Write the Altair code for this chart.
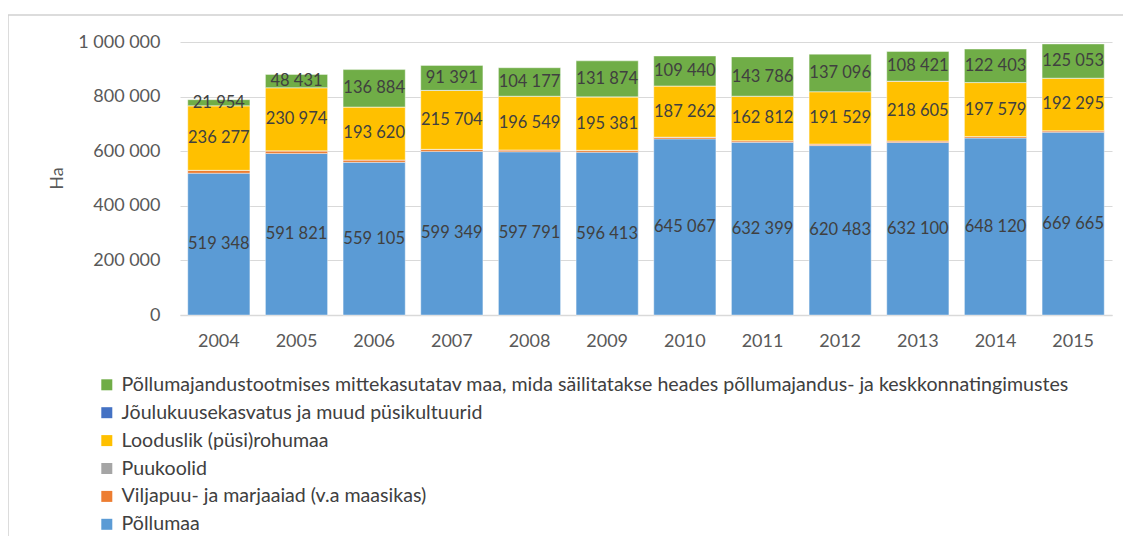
import altair as alt
import pandas as pd

years = [2004, 2005, 2006, 2007, 2008, 2009, 2010, 2011, 2012, 2013, 2014, 2015]

# stacking order (bottom -> top)
series_names = [
    "Põllumaa",
    "Viljapuu- ja marjaaiad (v.a maasikas)",
    "Puukoolid",
    "Looduslik (püsi)rohumaa",
    "Jõulukuusekasvatus ja muud püsikultuurid",
    "Põllumajandustootmises mittekasutatav maa, mida säilitatakse heades põllumajandus- ja keskkonnatingimustes",
]
series_colors = ["#5B9BD5", "#ED7D31", "#A5A5A5", "#FFC000", "#4472C4", "#70AD47"]

pollumaa = [519348, 591821, 559105, 599349, 597791, 596413, 645067, 632399, 620483, 632100, 648120, 669665]
viljapuu = [10000, 9000, 8500, 7000, 6500, 6500, 6000, 5800, 5500, 5300, 5200, 5000]
puukoolid = [800, 700, 600, 600, 500, 500, 500, 400, 400, 400, 400, 400]
rohumaa = [236277, 230974, 193620, 215704, 196549, 195381, 187262, 162812, 191529, 218605, 197579, 192295]
joulukuuse = [200, 200, 200, 200, 200, 200, 300, 300, 300, 300, 300, 300]
mittekasutatav = [21954, 48431, 136884, 91391, 104177, 131874, 109440, 143786, 137096, 108421, 122403, 125053]

series_values = [pollumaa, viljapuu, puukoolid, rohumaa, joulukuuse, mittekasutatav]
labeled = {series_names[0], series_names[3], series_names[5]}

y_ticks = [0, 200000, 400000, 600000, 800000, 1000000]

rows = []
for i, yr in enumerate(years):
    for k, (name, vals) in enumerate(zip(series_names, series_values)):
        rows.append({"year": str(yr), "series": name, "order": k,
                     "value": vals[i], "show": name in labeled})
df = pd.DataFrame(rows)

legend_order = list(reversed(series_names))
legend_colors = list(reversed(series_colors))

FONT = "Lato"

base = alt.Chart(df).transform_stack(
    stack="value", as_=["y0", "y1"], groupby=["year"],
    sort=[alt.SortField("order", order="ascending")],
).transform_calculate(mid="(datum.y0 + datum.y1) / 2")

x_enc = alt.X(
    "year:N",
    title=None,
    scale=alt.Scale(paddingInner=0.2, paddingOuter=0.1),
    axis=alt.Axis(labelAngle=0, ticks=False, domainColor="#d9d9d9", domainWidth=1.5,
                  labelFont=FONT, labelFontSize=18, labelColor="#595959", labelPadding=17),
)

bars = base.mark_bar(stroke="white", strokeWidth=0.4).encode(
    x=x_enc,
    y=alt.Y(
        "y0:Q",
        scale=alt.Scale(domain=[0, 1000000], nice=False),
        axis=alt.Axis(values=y_ticks, format=",.0f", domain=False, ticks=False,
                      labelFont=FONT, labelFontSize=18, labelColor="#595959",
                      labelPadding=20, gridColor="#d9d9d9", gridWidth=1.2,
                      title="Ha", titleFont=FONT, titleFontSize=18,
                      titleFontWeight="normal", titleColor="#595959",
                      titleX=-123, titleY=136, titleAngle=270, titleBaseline="middle",
                      titleAlign="center"),
    ),
    y2="y1:Q",
    color=alt.Color(
        "series:N",
        scale=alt.Scale(domain=legend_order, range=legend_colors),
        legend=alt.Legend(orient="none", legendX=-83, legendY=333, direction="vertical",
                          title=None, labelFont=FONT, labelFontSize=19.6, labelColor="#404040",
                          symbolType="square", symbolSize=121, symbolStrokeWidth=0,
                          labelOffset=5, rowPadding=6.9, padding=0, labelLimit=1100),
    ),
)

labels = base.transform_filter("datum.show").mark_text(
    font=FONT, fontSize=16.5, color="#404040", baseline="middle"
).encode(
    x=alt.X("year:N"),
    y=alt.Y("mid:Q"),
    text=alt.Text("value:Q", format=",.0f"),
)

frame_df = pd.DataFrame({"a": [0]})
left_border = alt.Chart(frame_df).mark_rule(color="#d0d0d0", strokeWidth=1.5).encode(
    x=alt.value(-172), y=alt.value(-27), y2=alt.value(520)
)
top_border = alt.Chart(frame_df).mark_rule(color="#d0d0d0", strokeWidth=1.5).encode(
    x=alt.value(-172), x2=alt.value(960), y=alt.value(-27)
)

chart = alt.layer(bars, labels, left_border, top_border).properties(
    width=932, height=273,
    autosize="none",
    padding={"left": 172, "top": 34, "right": 11, "bottom": 221},
).configure(
    locale={"number": {"decimal": ",", "thousands": " ", "grouping": [3],
                       "currency": ["", " €"]}}
).configure_view(stroke=None)

chart.save("out.html", embed_options={"renderer": "svg", "actions": False})
